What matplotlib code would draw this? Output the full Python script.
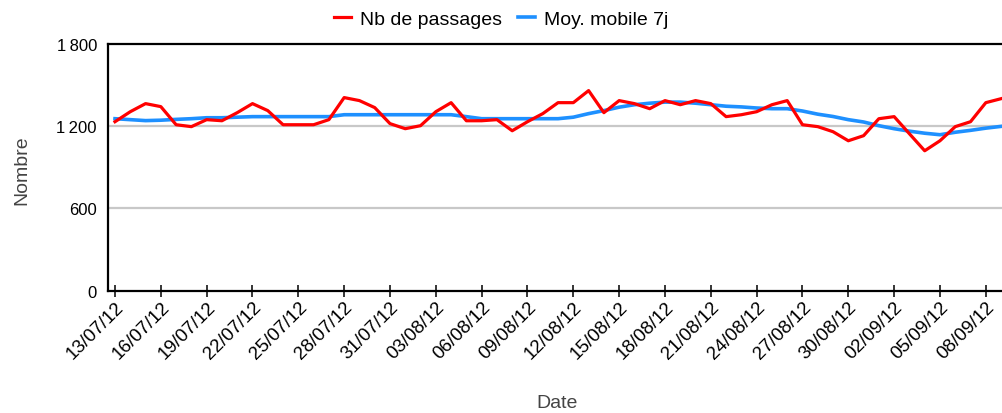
import numpy as np
import matplotlib
matplotlib.use("Agg")
import matplotlib.pyplot as plt
import matplotlib.dates as mdates

plt.rcParams['font.family'] = ['Liberation Sans', 'DejaVu Sans']

# daily data, 13/07/2012 -> 09/09/2012
dates = np.arange(np.datetime64('2012-07-13'), np.datetime64('2012-09-10'))

passages = [1233, 1306, 1365, 1343, 1211, 1197, 1248, 1240, 1299, 1365,
            1314, 1211, 1211, 1211, 1248, 1409, 1387, 1336, 1219, 1182,
            1204, 1306, 1372, 1240, 1240, 1248, 1167, 1233, 1292, 1372,
            1372, 1460, 1299, 1387, 1365, 1328, 1387, 1357, 1387, 1365,
            1270, 1284, 1306, 1357, 1387, 1211, 1197, 1160, 1094, 1131,
            1255, 1270, 1145, 1021, 1094, 1197, 1233, 1372, 1401]

moy_mobile = [1255, 1248, 1241, 1244, 1250, 1255, 1262, 1262, 1266, 1270,
              1270, 1270, 1270, 1270, 1270, 1284, 1284, 1284, 1284, 1284,
              1284, 1284, 1284, 1270, 1255, 1255, 1255, 1255, 1255, 1255,
              1266, 1292, 1314, 1339, 1357, 1368, 1376, 1376, 1368, 1357,
              1346, 1341, 1333, 1328, 1328, 1311, 1288, 1271, 1248, 1231,
              1204, 1182, 1164, 1149, 1138, 1156, 1170, 1186, 1199]

yticks = [0, 600, 1200, 1800]
ylabels = ['0', '600', '1\u202f200', '1\u202f800']

red = '#ff0000'
blue = '#1e90ff'

fig = plt.figure(figsize=(10.03, 4.14), dpi=100)
ax = fig.add_axes([108 / 1003, 1 - 291.7 / 414, 1 - 108 / 1003, (291.7 - 45) / 414])

for y in [600, 1200]:
    ax.axhline(y, color='#c8c8c8', lw=1.6, zorder=1)

l2, = ax.plot(dates, moy_mobile, color=blue, lw=2.6, zorder=3, label='Moy. mobile 7j')
l1, = ax.plot(dates, passages, color=red, lw=2.3, zorder=4, label='Nb de passages')

ax.set_ylim(0, 1800)
ax.set_yticks(yticks)
ax.set_yticklabels(ylabels)
ax.set_xlim(dates[0] - np.timedelta64(11, 'h'), dates[0] + np.timedelta64(int(58.13 * 24), 'h'))

ax.set_xticks(dates[::3])
ax.xaxis.set_major_formatter(mdates.DateFormatter('%d/%m/%y'))

ax.tick_params(axis='y', length=0, pad=8, labelsize=12, colors='black')
ax.tick_params(axis='x', length=8, width=1.1, direction='inout', pad=1, labelsize=13.5)
for lab in ax.get_xticklabels():
    lab.set_rotation(45)
    lab.set_ha('right')
    lab.set_va('top')
    lab.set_rotation_mode('anchor')

for s in ['left', 'bottom', 'top']:
    ax.spines[s].set_linewidth(1.6)
    ax.spines[s].set_color('black')
ax.spines['right'].set_visible(False)

fig.text(22 / 1003, 1 - 170 / 414, 'Nombre', rotation=90, ha='center', va='center',
         fontsize=14, color='#444444')
fig.text(557 / 1003, 1 - 404 / 414, 'Date', ha='center', va='center',
         fontsize=14, color='#444444')

fig.legend(handles=[l1, l2], loc='center', bbox_to_anchor=(501 / 1003, 1 - 20 / 414),
           ncol=2, frameon=False, fontsize=14, handlelength=0.9,
           handletextpad=0.45, columnspacing=0.8)

fig.savefig('out.png', dpi=100)
